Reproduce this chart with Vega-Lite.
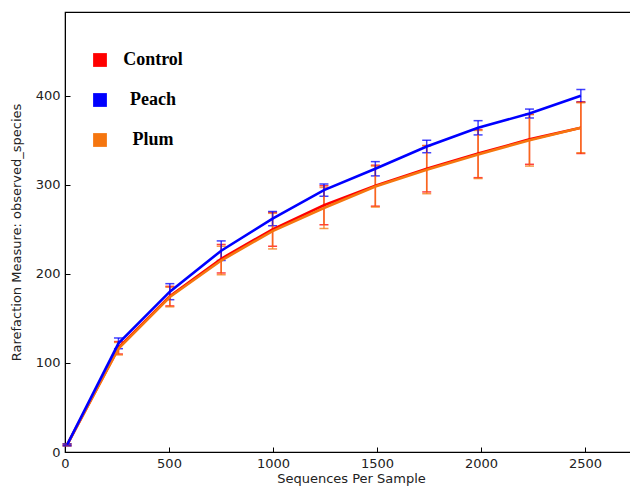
{
  "$schema": "https://vega.github.io/schema/vega-lite/v6.json",
  "autosize": "none",
  "width": 572,
  "height": 440,
  "padding": {"left": 65, "top": 12, "right": 0, "bottom": 38},
  "background": "white",
  "config": {
    "view": {"stroke": "black", "strokeWidth": 1.2},
    "axis": {
      "grid": false,
      "domainColor": "black",
      "tickColor": "black",
      "tickSize": -5,
      "labelPadding": 10,
      "labelFlush": false,
      "labelFont": "DejaVu Sans",
      "labelFontSize": 13,
      "labelColor": "#222",
      "titleFont": "DejaVu Sans",
      "titleFontSize": 13,
      "titleFontWeight": "normal",
      "titleColor": "#222"
    }
  },
  "data": {
    "values": [
      {"series": "Control", "seq": 10, "mean": 8, "err": 1},
      {"series": "Control", "seq": 257, "mean": 117, "err": 7},
      {"series": "Control", "seq": 504, "mean": 175, "err": 11},
      {"series": "Control", "seq": 751, "mean": 217, "err": 16},
      {"series": "Control", "seq": 998, "mean": 250, "err": 19},
      {"series": "Control", "seq": 1245, "mean": 277, "err": 22},
      {"series": "Control", "seq": 1492, "mean": 299, "err": 23},
      {"series": "Control", "seq": 1739, "mean": 318, "err": 26},
      {"series": "Control", "seq": 1986, "mean": 335, "err": 27},
      {"series": "Control", "seq": 2233, "mean": 351, "err": 28},
      {"series": "Control", "seq": 2480, "mean": 364, "err": 29},
      {"series": "Plum", "seq": 10, "mean": 8, "err": 1},
      {"series": "Plum", "seq": 257, "mean": 116, "err": 7},
      {"series": "Plum", "seq": 504, "mean": 174, "err": 11},
      {"series": "Plum", "seq": 751, "mean": 215, "err": 16},
      {"series": "Plum", "seq": 998, "mean": 248, "err": 20},
      {"series": "Plum", "seq": 1245, "mean": 274, "err": 23},
      {"series": "Plum", "seq": 1492, "mean": 298, "err": 23},
      {"series": "Plum", "seq": 1739, "mean": 317, "err": 27},
      {"series": "Plum", "seq": 1986, "mean": 334, "err": 27},
      {"series": "Plum", "seq": 2233, "mean": 350, "err": 29},
      {"series": "Plum", "seq": 2480, "mean": 364, "err": 28},
      {"series": "Peach", "seq": 10, "mean": 8, "err": 1},
      {"series": "Peach", "seq": 257, "mean": 122, "err": 6},
      {"series": "Peach", "seq": 504, "mean": 180, "err": 9},
      {"series": "Peach", "seq": 751, "mean": 226, "err": 11},
      {"series": "Peach", "seq": 998, "mean": 262, "err": 8},
      {"series": "Peach", "seq": 1245, "mean": 294, "err": 7},
      {"series": "Peach", "seq": 1492, "mean": 318, "err": 8},
      {"series": "Peach", "seq": 1739, "mean": 343, "err": 7},
      {"series": "Peach", "seq": 1986, "mean": 364, "err": 8},
      {"series": "Peach", "seq": 2233, "mean": 380, "err": 5},
      {"series": "Peach", "seq": 2480, "mean": 400, "err": 7}
    ]
  },
  "encoding": {
    "x": {
      "field": "seq", "type": "quantitative",
      "scale": {"domain": [0, 2750], "nice": false, "zero": false},
      "axis": {"values": [0, 500, 1000, 1500, 2000, 2500], "format": "d", "title": "Sequences Per Sample", "titlePadding": 2}
    },
    "y": {
      "field": "mean", "type": "quantitative",
      "scale": {"domain": [0, 494], "nice": false},
      "axis": {"values": [0, 100, 200, 300, 400], "format": "d", "title": "Rarefaction Measure: observed_species", "titlePadding": 12}
    },
    "color": {
      "field": "series", "type": "nominal",
      "scale": {"domain": ["Control", "Peach", "Plum"], "range": ["#ff0000", "#0000ff", "#f5760f"]},
      "legend": {
        "title": null,
        "orient": "none",
        "legendX": 26,
        "legendY": 39,
        "padding": 0,
        "symbolType": "square",
        "symbolSize": 190,
        "symbolStrokeWidth": 0,
        "symbolOpacity": 1,
        "labelFont": "Liberation Serif",
        "labelFontWeight": "bold",
        "labelFontSize": 18,
        "labelColor": "black",
        "labelAlign": "center",
        "labelOffset": 44,
        "rowPadding": 22
      }
    }
  },
  "layer": [
    {
      "mark": {"type": "errorbar", "ticks": {"size": 9}, "thickness": 1.5, "opacity": 0.75},
      "encoding": {
        "yError": {"field": "err"}
      }
    },
    {
      "mark": {"type": "line", "strokeWidth": 2.6}
    }
  ]
}
